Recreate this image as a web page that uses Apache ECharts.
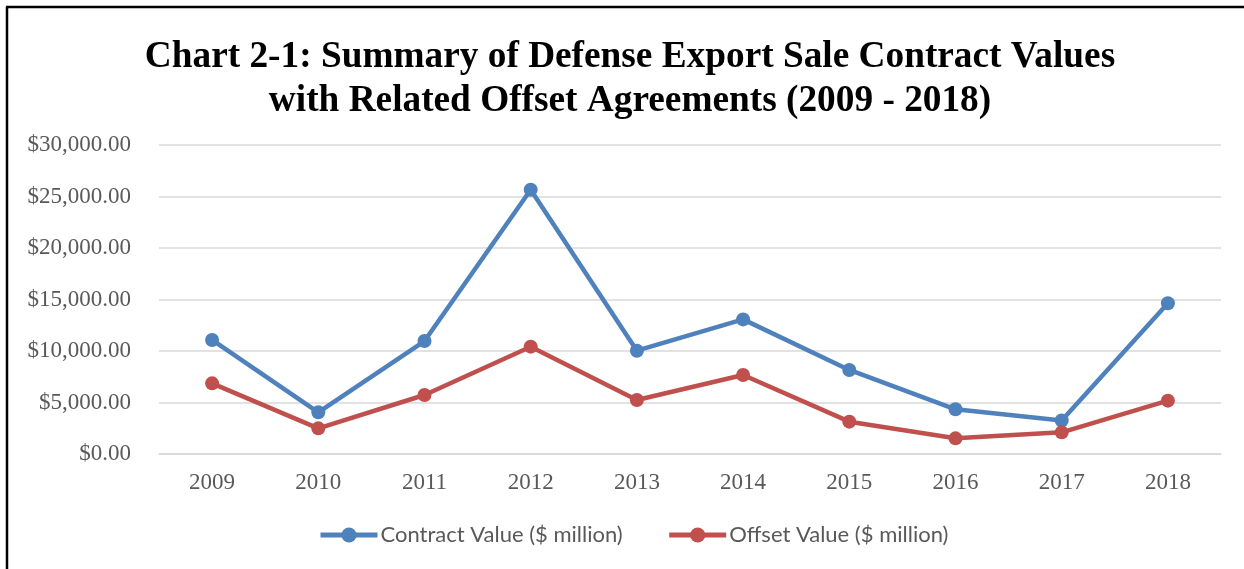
<!DOCTYPE html>
<html>
<head>
<meta charset="utf-8">
<script src="https://cdn.jsdelivr.net/npm/echarts@6/dist/echarts.min.js"></script>
<style>
html,body{margin:0;padding:0;background:#fff;}
#chart{width:1244px;height:569px;}
</style>
</head>
<body>
<div id="chart"></div>
<script>
var years = ['2009','2010','2011','2012','2013','2014','2015','2016','2017','2018'];
var contractValues = [11070, 4050, 10970, 25650, 10030, 13070, 8160, 4340, 3250, 14630];
var offsetValues = [6860, 2490, 5730, 10420, 5240, 7670, 3140, 1520, 2100, 5180];
var seriesNames = ['Contract Value ($ million)', 'Offset Value ($ million)'];
var titleLines = ['Chart 2-1: Summary of Defense Export Sale Contract Values', 'with Related Offset Agreements (2009 - 2018)'];

function money(v){
  return '$' + Number(v).toLocaleString('en-US',{minimumFractionDigits:2,maximumFractionDigits:2});
}

var chart = echarts.init(document.getElementById('chart'), null, {renderer:'canvas'});
chart.setOption({
  backgroundColor:'#ffffff',
  animation:false,
  title:{
    text: titleLines.join('\n'),
    left: 625, top: 30, textAlign:'center',
    textStyle:{fontFamily:'"Liberation Serif","Times New Roman",serif',fontWeight:'bold',fontSize:37.3,lineHeight:44,color:'#000'}
  },
  legend:{
    data: seriesNames,
    left: 313, top: 519,
    itemWidth: 57, itemHeight: 19, itemGap: 44,
    lineStyle:{width:5},
    textStyle:{fontFamily:'Lato,"Open Sans",sans-serif',fontSize:22,color:'#595959',padding:[0,0,0,-2]}
  },
  grid:{left:159, right:23, top:145, bottom:115, containLabel:false},
  xAxis:{
    type:'category', data: years, boundaryGap:true,
    axisLine:{show:true,lineStyle:{color:'#D9D9D9',width:1.5}},
    axisTick:{show:false},
    axisLabel:{margin:17,fontFamily:'"Liberation Serif","Times New Roman",serif',fontSize:23,color:'#595959'}
  },
  yAxis:{
    type:'value', min:0, max:30000, interval:5000,
    axisLine:{show:false}, axisTick:{show:false},
    splitLine:{lineStyle:{color:'#D9D9D9',width:1.5}},
    axisLabel:{margin:28,formatter:money,fontFamily:'"Liberation Serif","Times New Roman",serif',fontSize:23,color:'#595959'}
  },
  series:[
    {name:seriesNames[0], type:'line', data:contractValues, symbol:'circle', symbolSize:14,
     lineStyle:{color:'#4F81BD',width:4.5}, itemStyle:{color:'#4F81BD'}},
    {name:seriesNames[1], type:'line', data:offsetValues, symbol:'circle', symbolSize:14,
     lineStyle:{color:'#C0504D',width:4.5}, itemStyle:{color:'#C0504D'}}
  ],
  graphic:[
    {type:'line', shape:{x1:7,y1:7,x2:7,y2:569}, style:{stroke:'#000',lineWidth:2.5}},
    {type:'line', shape:{x1:6,y1:7,x2:1244,y2:7}, style:{stroke:'#000',lineWidth:2.5}}
  ]
});
</script>
</body>
</html>
